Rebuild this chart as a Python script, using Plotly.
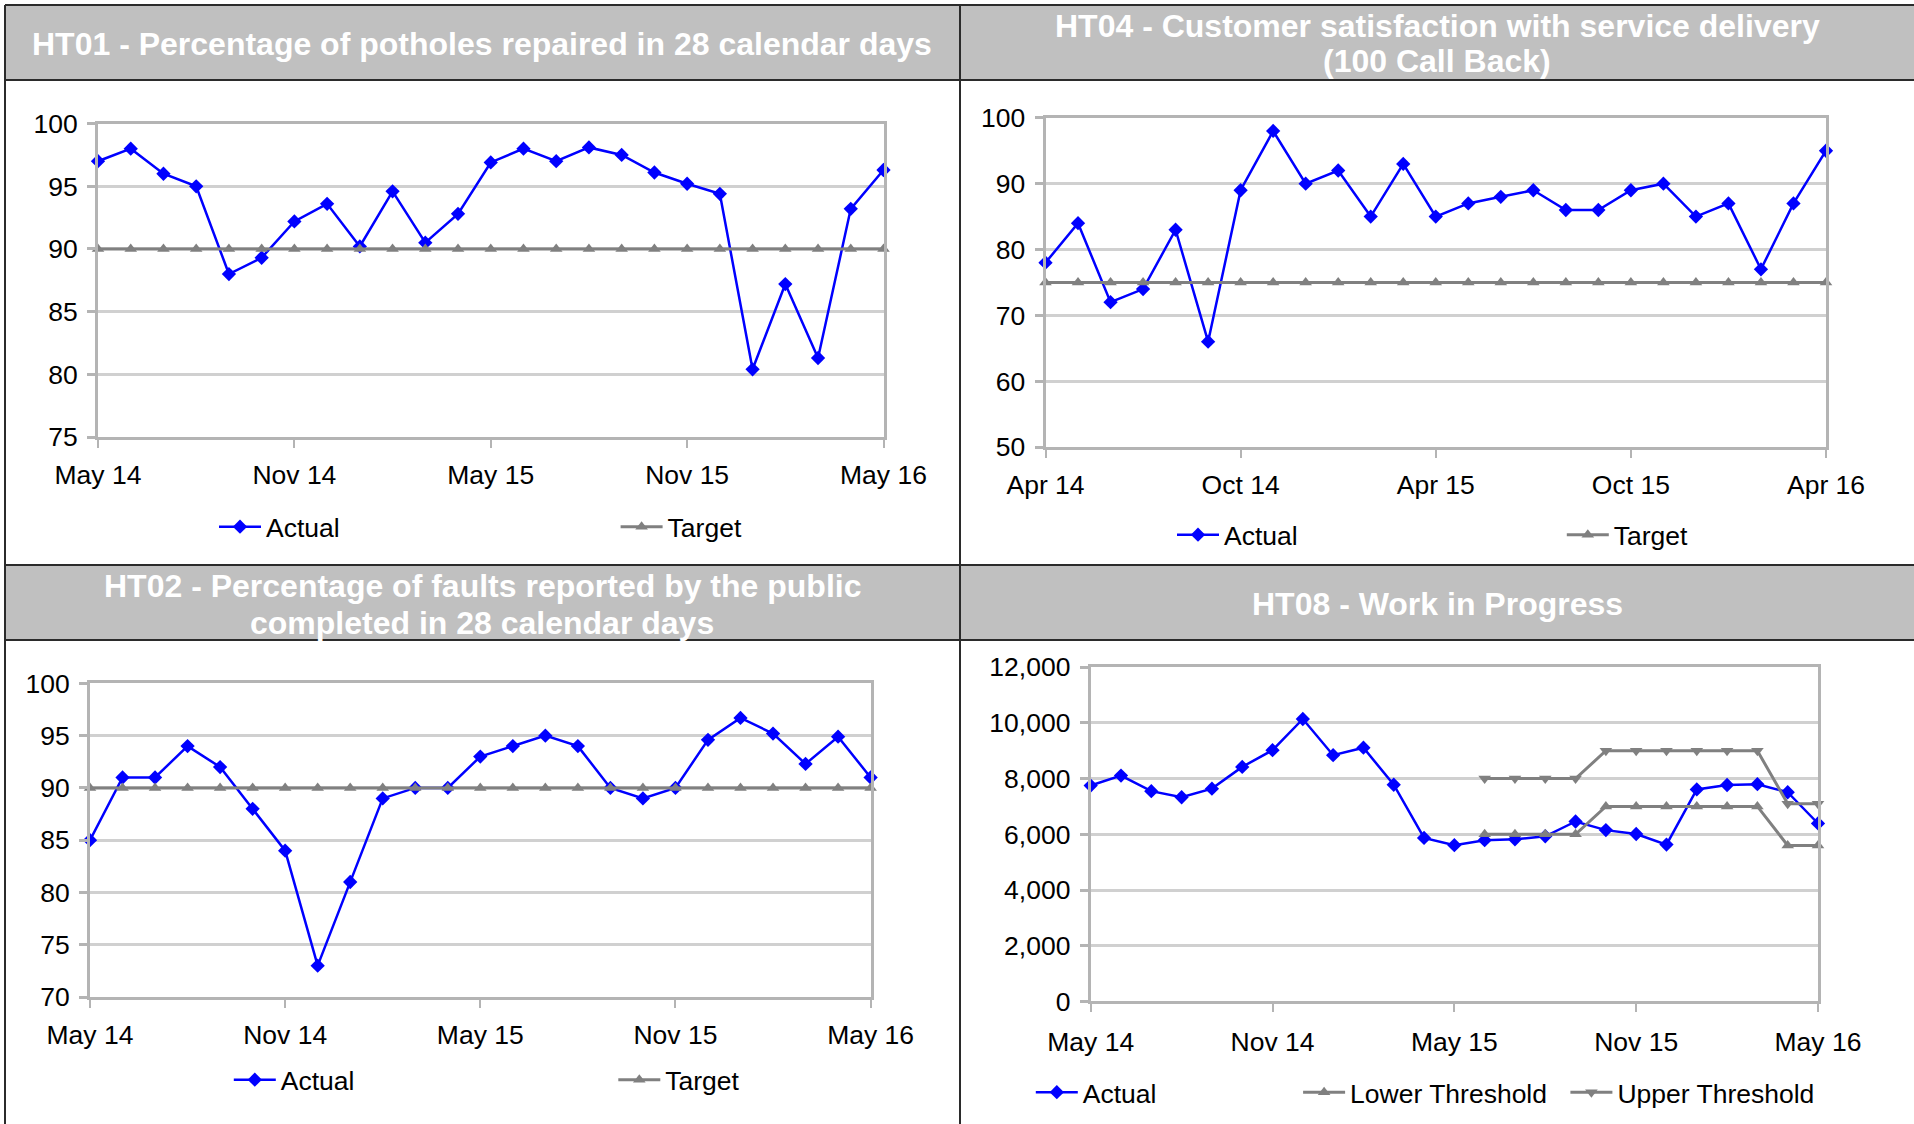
import plotly.graph_objects as go
import pandas as pd

W, H = 1914, 1124
FONT = "Liberation Sans, Arial, sans-serif"

# ---------------- data ----------------
months_may = [d.strftime("%b %y") for d in pd.date_range("2014-05-01", periods=25, freq="MS")]
months_apr = [d.strftime("%b %y") for d in pd.date_range("2014-04-01", periods=25, freq="MS")]

ht01_actual = [97.0, 98.0, 96.0, 95.0, 88.0, 89.3, 92.2, 93.6, 90.2, 94.6, 90.5, 92.8, 96.9,
               98.0, 97.0, 98.1, 97.5, 96.1, 95.2, 94.4, 80.4, 87.2, 81.3, 93.2, 96.3]
ht01_target = [90, 90, 90, 90, 90, 90, 90, 90, 90, 90, 90, 90, 90,
               90, 90, 90, 90, 90, 90, 90, 90, 90, 90, 90, 90]

ht04_actual = [78, 84, 72, 74, 83, 66, 89, 98, 90, 92, 85, 93, 85,
               87, 88, 89, 86, 86, 89, 90, 85, 87, 77, 87, 95]
ht04_target = [75, 75, 75, 75, 75, 75, 75, 75, 75, 75, 75, 75, 75,
               75, 75, 75, 75, 75, 75, 75, 75, 75, 75, 75, 75]

ht02_actual = [85, 91, 91, 94, 92, 88, 84, 73, 81, 89, 90, 90, 93,
               94, 95, 94, 90, 89, 90, 94.6, 96.7, 95.2, 92.3, 94.9, 91]
ht02_target = [90, 90, 90, 90, 90, 90, 90, 90, 90, 90, 90, 90, 90,
               90, 90, 90, 90, 90, 90, 90, 90, 90, 90, 90, 90]

ht08_actual = [7750, 8110, 7550, 7330, 7640, 8420, 9020, 10140, 8840, 9110, 7780, 5870, 5610,
               5790, 5820, 5930, 6460, 6150, 6010, 5630, 7610, 7770, 7800, 7510, 6390]
ht08_lower = [None, None, None, None, None, None, None, None, None, None, None, None, None,
              6000, 6000, 6000, 6000, 7000, 7000, 7000, 7000, 7000, 7000, 5600, 5600]
ht08_upper = [None, None, None, None, None, None, None, None, None, None, None, None, None,
              8000, 8000, 8000, 8000, 9000, 9000, 9000, 9000, 9000, 9000, 7100, 7100]

titles = {
    "ht01": ["HT01 - Percentage of potholes repaired in 28 calendar days"],
    "ht04": ["HT04 - Customer satisfaction with service delivery", "(100 Call Back)"],
    "ht02": ["HT02 - Percentage of faults reported by the public", "completed in 28 calendar days"],
    "ht08": ["HT08 - Work in Progress"],
}

# ---------------- helpers ----------------
def px(x):
    return x / W

def py(y):
    return 1 - y / H

BLUE = "#0000ff"
GRAY = "#808080"
AXIS = "#b4b4b4"
GRID = "#d0d0d0"

fig = go.Figure()

def actual_trace(x, y, xa, ya, leg):
    return go.Scatter(x=x, y=y, name="Actual", mode="lines+markers", xaxis=xa, yaxis=ya,
                      line=dict(color=BLUE, width=2.5),
                      marker=dict(symbol="diamond", size=11, color=BLUE),
                      cliponaxis=False, legend=leg)

def gray_trace(x, y, xa, ya, leg, name, sym):
    return go.Scatter(x=x, y=y, name=name, mode="lines+markers", xaxis=xa, yaxis=ya,
                      line=dict(color=GRAY, width=3),
                      marker=dict(symbol=sym, size=11, color=GRAY),
                      cliponaxis=False, legend=leg, connectgaps=False)

fig.add_trace(actual_trace(months_may, ht01_actual, "x", "y", "legend"))
fig.add_trace(gray_trace(months_may, ht01_target, "x", "y", "legend", "Target", "triangle-up"))
fig.add_trace(actual_trace(months_apr, ht04_actual, "x2", "y2", "legend2"))
fig.add_trace(gray_trace(months_apr, ht04_target, "x2", "y2", "legend2", "Target", "triangle-up"))
fig.add_trace(actual_trace(months_may, ht02_actual, "x3", "y3", "legend3"))
fig.add_trace(gray_trace(months_may, ht02_target, "x3", "y3", "legend3", "Target", "triangle-up"))
fig.add_trace(actual_trace(months_may, ht08_actual, "x4", "y4", "legend4"))
fig.add_trace(gray_trace(months_may, ht08_lower, "x4", "y4", "legend4", "Lower Threshold", "triangle-up"))
fig.add_trace(gray_trace(months_may, ht08_upper, "x4", "y4", "legend4", "Upper Threshold", "triangle-down"))

tickfont = dict(family=FONT, size=26.5, color="black")

def xaxis_cfg(months, left, right, anchor, standoff):
    return dict(type="category", domain=[px(left), px(right)], range=[0, len(months) - 1],
                tickmode="array", tickvals=months[::6], ticktext=months[::6],
                ticks="outside", ticklen=8, tickwidth=1.5, tickcolor=AXIS,
                showline=True, linecolor=AXIS, linewidth=3, mirror=True,
                showgrid=False, zeroline=False, tickfont=tickfont, anchor=anchor,
                ticklabelstandoff=standoff, fixedrange=True)

def yaxis_cfg(top, bottom, rng, dtick, anchor, fmt=None):
    d = dict(domain=[py(bottom), py(top)], range=rng, dtick=dtick, tick0=0,
             ticks="outside", ticklen=8, tickwidth=3, tickcolor=AXIS,
             showline=True, linecolor=AXIS, linewidth=3, mirror=True,
             showgrid=True, gridcolor=GRID, gridwidth=3, zeroline=False,
             tickfont=tickfont, anchor=anchor, ticklabelstandoff=4, fixedrange=True)
    if fmt:
        d["tickformat"] = fmt
    return d

fig.update_layout(
    xaxis=xaxis_cfg(months_may, 98, 883.5, "y", 4),
    yaxis=yaxis_cfg(123.6, 437, [75, 100], 5, "x"),
    xaxis2=xaxis_cfg(months_apr, 1045.5, 1826, "y2", 4),
    yaxis2=yaxis_cfg(117.8, 447.1, [50, 100], 10, "x2"),
    xaxis3=xaxis_cfg(months_may, 90, 870.6, "y3", 4),
    yaxis3=yaxis_cfg(683.4, 997, [70, 100], 5, "x3"),
    xaxis4=xaxis_cfg(months_may, 1090.7, 1818, "y4", 7),
    yaxis4=yaxis_cfg(667.2, 1001.4, [0, 12000], 2000, "x4", ","),
)

legfont = dict(family=FONT, size=26.5, color="black")
ITEMW = 42

def legend_cfg(text_start, y_mid, entry):
    return dict(orientation="h", x=px(text_start - (ITEMW + 10)), xanchor="left", y=py(y_mid),
                yanchor="middle", font=legfont, entrywidth=entry, entrywidthmode="pixels",
                itemwidth=ITEMW, bgcolor="rgba(0,0,0,0)", borderwidth=0, traceorder="normal")

fig.update_layout(
    legend=legend_cfg(266, 527, 344.6),
    legend2=legend_cfg(1224, 535, 332.8),
    legend3=legend_cfg(280.8, 1080, 327.5),
    legend4=legend_cfg(1082.8, 1092.5, 210.3),
)

# ---------------- frame: title bars and borders ----------------
shapes = []
for (y0, y1) in [(5, 80), (565, 640)]:
    shapes.append(dict(type="rect", xref="paper", yref="paper", x0=px(5), x1=1, y0=py(y1), y1=py(y0),
                       fillcolor="#c0c0c0", line=dict(width=0), layer="below"))
line_style = dict(color="#2b2b2b", width=2)
for yy in [5, 80, 565, 640]:
    shapes.append(dict(type="line", xref="paper", yref="paper", x0=px(5), x1=1, y0=py(yy), y1=py(yy),
                       line=line_style))
for xx in [5, 960]:
    shapes.append(dict(type="line", xref="paper", yref="paper", x0=px(xx), x1=px(xx), y0=0, y1=py(5),
                       line=line_style))

annotations = []
title_font = dict(family=FONT, size=32, color="white", weight="bold")
title_pos = {
    "ht01": (482, [44]),
    "ht04": (1437, [25.6, 61]),
    "ht02": (482, [586, 622.5]),
    "ht08": (1437, [604]),
}
for key, (cx, ys) in title_pos.items():
    for text, yy in zip(titles[key], ys):
        annotations.append(dict(text=text, xref="paper", yref="paper", x=px(cx), y=py(yy),
                                xanchor="center", yanchor="middle", showarrow=False, font=title_font))

fig.update_layout(
    shapes=shapes, annotations=annotations,
    width=W, height=H, autosize=False,
    margin=dict(l=0, r=0, t=0, b=0, pad=0, autoexpand=False),
    paper_bgcolor="white", plot_bgcolor="white",
    font=dict(family=FONT, size=26.5, color="black"),
)

fig.write_html("out.html", config={"displayModeBar": False},
               post_script="document.body.style.margin='0';document.body.style.overflow='hidden';")
